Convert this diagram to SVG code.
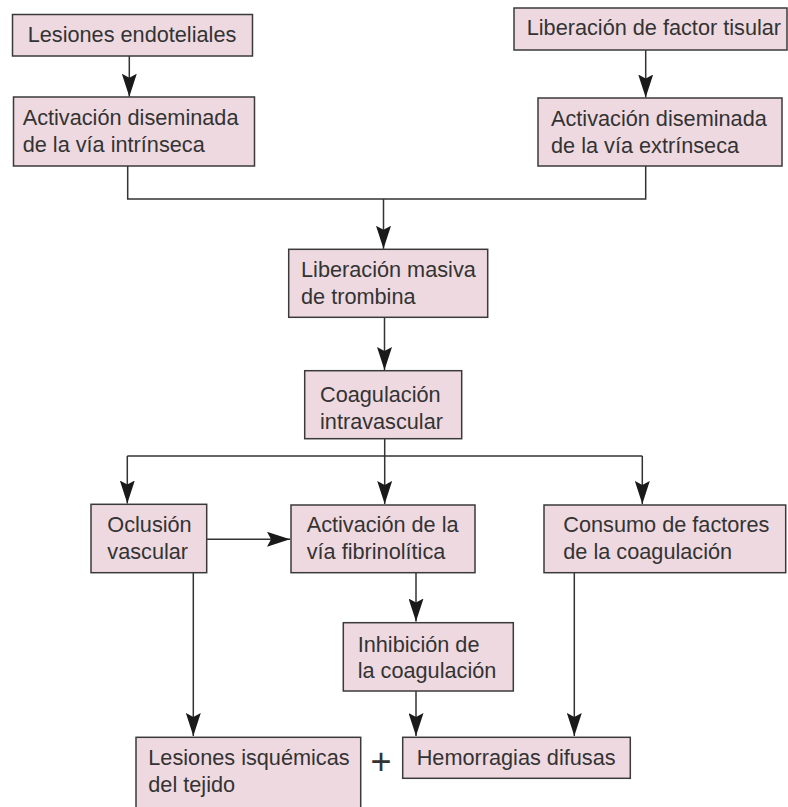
<svg xmlns="http://www.w3.org/2000/svg" width="788" height="807" viewBox="0 0 788 807">
<style>
.box{fill:#eed9e0;stroke:#3a3a3a;stroke-width:1.5}
.t{font-family:"Liberation Sans",Arial,sans-serif;font-size:21.7px;fill:#333333}
.c{fill:none;stroke:#333333;stroke-width:1.5}
.a{fill:none;stroke:#333333;stroke-width:1.5;marker-end:url(#ah)}
</style>
<defs>
<marker id="ah" markerUnits="userSpaceOnUse" viewBox="0 0 23 15" refX="23" refY="7.5" markerWidth="23" markerHeight="15" orient="auto">
<path d="M0,0 L23,7.5 L0,15 L4,7.5 z" fill="#1a1a1a"/>
</marker>
</defs>
<rect width="788" height="807" fill="#ffffff"/>
<g id="connectors">
<path class="a" d="M129.3,56 V96.7"/>
<path class="a" d="M645.7,50 V97.5"/>
<path class="c" d="M127.7,166 V199 H645.7 V166"/>
<path class="a" d="M383.5,199 V248.8"/>
<path class="a" d="M384.5,317.5 V370"/>
<path class="c" d="M384.7,438.7 V456 M127.3,456 H642.3"/>
<path class="a" d="M127.3,456 V503.5"/>
<path class="a" d="M384.7,456 V504"/>
<path class="a" d="M642.3,456 V504"/>
<path class="a" d="M206.7,539.3 H290"/>
<path class="a" d="M416,572.7 V621.5"/>
<path class="a" d="M193.3,572.7 V736"/>
<path class="a" d="M416,691 V736"/>
<path class="a" d="M574.3,572.7 V736"/>
</g>
<g id="n1"><rect class="box" x="12.5" y="14.5" width="240" height="41.5"/><text class="t" x="27.7" y="42">Lesiones endoteliales</text></g>
<g id="n2"><rect class="box" x="13.5" y="97" width="241" height="69"/><text class="t" x="22.7" y="125">Activación diseminada</text><text class="t" x="22.7" y="152.3">de la vía intrínseca</text></g>
<g id="n3"><rect class="box" x="514" y="8" width="273" height="42"/><text class="t" x="526.7" y="35">Liberación de factor tisular</text></g>
<g id="n4"><rect class="box" x="538" y="98" width="244" height="68"/><text class="t" x="551" y="126">Activación diseminada</text><text class="t" x="551" y="152.7">de la vía extrínseca</text></g>
<g id="n5"><rect class="box" x="288.7" y="249.3" width="199" height="68"/><text class="t" x="301" y="277">Liberación masiva</text><text class="t" x="301" y="304">de trombina</text></g>
<g id="n6"><rect class="box" x="304.7" y="370.7" width="157" height="68"/><text class="t" x="320" y="402">Coagulación</text><text class="t" x="320" y="428.5">intravascular</text></g>
<g id="n7"><rect class="box" x="91" y="504.3" width="115.7" height="68.4"/><text class="t" x="107.3" y="532.3">Oclusión</text><text class="t" x="107.3" y="559">vascular</text></g>
<g id="n8"><rect class="box" x="291" y="505" width="184" height="67.7"/><text class="t" x="306.7" y="532.3">Activación de la</text><text class="t" x="306.7" y="559">vía fibrinolítica</text></g>
<g id="n9"><rect class="box" x="544" y="505" width="241.7" height="67.7"/><text class="t" x="563.3" y="532.3">Consumo de factores</text><text class="t" x="563.3" y="559">de la coagulación</text></g>
<g id="n10"><rect class="box" x="343.3" y="622.7" width="170" height="68.3"/><text class="t" x="357.7" y="651.7">Inhibición de</text><text class="t" x="357.7" y="678.3">la coagulación</text></g>
<g id="n11"><rect class="box" x="136" y="737.3" width="224.7" height="75"/><text class="t" x="148.3" y="765">Lesiones isquémicas</text><text class="t" x="148.3" y="792.3">del tejido</text></g>
<g id="n12"><rect class="box" x="402.7" y="737.3" width="227.6" height="41"/><text class="t" x="416.7" y="765">Hemorragias difusas</text></g>
<text id="plus" x="381" y="774" text-anchor="middle" font-family="Liberation Sans, Arial, sans-serif" font-size="36" fill="#333333">+</text>
</svg>
